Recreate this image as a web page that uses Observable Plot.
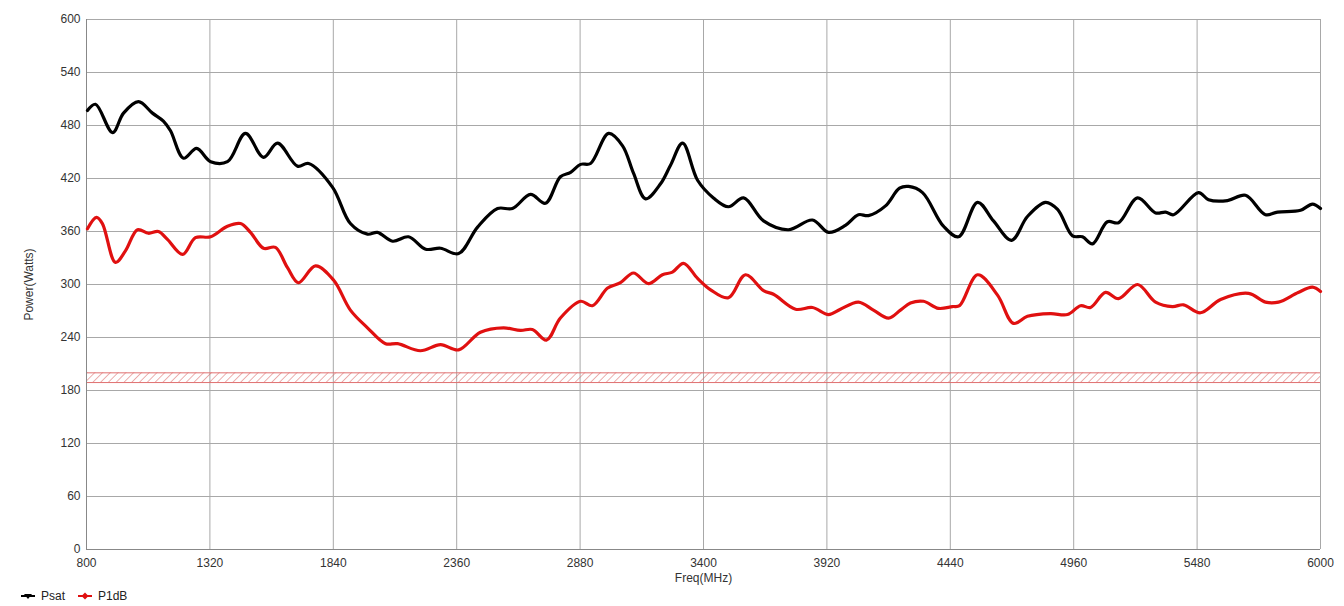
<!DOCTYPE html>
<html>
<head>
<meta charset="utf-8">
<script src="https://cdn.jsdelivr.net/npm/d3@7"></script>
<script src="https://cdn.jsdelivr.net/npm/@observablehq/plot@0.6"></script>
<style>
  body { margin: 0; background: #fff; font-family: "Liberation Sans", Arial, sans-serif; }
  #legend { display: flex; gap: 12px; align-items: center; height: 20px; padding-left: 20px; font-size: 12px; color: #222; }
  #legend span.item { display: inline-flex; align-items: center; gap: 5px; }
</style>
</head>
<body>
<div id="chart"></div>
<div id="legend"></div>
<script>
// Frequencies (MHz) and values (Watts)
const psatFreq = [804, 838, 910, 956, 1019, 1078, 1124, 1154, 1209, 1264, 1323, 1394, 1470, 1546, 1605, 1689, 1736, 1837, 1912, 1984, 2026, 2090, 2157, 2229, 2292, 2368, 2448, 2532, 2595, 2671, 2734, 2797, 2840, 2882, 2924, 3000, 3059, 3105, 3156, 3219, 3261, 3312, 3375, 3442, 3505, 3569, 3653, 3758, 3859, 3927, 3998, 4053, 4095, 4167, 4226, 4264, 4323, 4411, 4475, 4555, 4622, 4698, 4765, 4841, 4892, 4955, 4997, 5039, 5102, 5149, 5229, 5305, 5347, 5381, 5486, 5528, 5608, 5684, 5768, 5819, 5916, 5966, 6000];
const psatWatts = [497, 504, 472, 494, 507, 494, 485, 474, 443, 454, 439, 439, 471, 444, 460, 434, 437, 410, 369, 357, 359, 349, 354, 340, 341, 335, 365, 386, 386, 402, 392, 422, 427, 436, 437, 471, 457, 426, 397, 414, 435, 460, 418, 398, 388, 398, 372, 362, 373, 359, 367, 379, 378, 389, 409, 411, 404, 366, 354, 393, 372, 350, 377, 393, 385, 355, 354, 346, 371, 370, 398, 381, 382, 379, 404, 396, 395, 401, 379, 382, 384, 391, 386];

const p1dbFreq = [804, 842, 867, 922, 964, 1015, 1061, 1103, 1141, 1205, 1259, 1323, 1394, 1449, 1491, 1546, 1596, 1647, 1693, 1765, 1841, 1912, 1984, 2060, 2111, 2207, 2292, 2368, 2460, 2557, 2629, 2679, 2738, 2797, 2882, 2932, 2996, 3050, 3105, 3168, 3227, 3269, 3316, 3375, 3430, 3505, 3577, 3653, 3695, 3788, 3859, 3927, 3977, 4053, 4116, 4180, 4230, 4272, 4327, 4390, 4449, 4479, 4555, 4639, 4706, 4765, 4862, 4934, 4989, 5031, 5094, 5149, 5229, 5305, 5376, 5423, 5494, 5579, 5697, 5768, 5823, 5906, 5966, 6000];
const p1dbWatts = [363, 376, 369, 325, 338, 362, 358, 360, 351, 334, 353, 354, 366, 369, 359, 341, 342, 319, 302, 321, 305, 271, 251, 233, 233, 225, 232, 226, 246, 251, 248, 249, 237, 262, 281, 276, 296, 302, 313, 301, 311, 314, 324, 307, 294, 285, 311, 293, 289, 272, 274, 266, 272, 280, 271, 262, 271, 279, 281, 273, 275, 276, 311, 288, 256, 264, 267, 266, 276, 274, 291, 284, 300, 280, 275, 277, 268, 283, 290, 280, 280, 291, 297, 292];

const xTicks = [800, 1320, 1840, 2360, 2880, 3400, 3920, 4440, 4960, 5480, 6000];
const yTicks = [0, 60, 120, 180, 240, 300, 360, 420, 480, 540, 600];
const band = [{lo: 189, hi: 200}];
const seriesNames = ["Psat", "P1dB"];
const seriesColors = ["#000000", "#e01010"];

const psat = psatFreq.map((f, i) => ({f, v: psatWatts[i]}));
const p1db = p1dbFreq.map((f, i) => ({f, v: p1dbWatts[i]}));

const font = "Liberation Sans, Arial, sans-serif";

const chart = Plot.plot({
  width: 1344,
  height: 586,
  marginLeft: 86,
  marginRight: 24,
  marginTop: 19,
  marginBottom: 37,
  style: {fontFamily: font, fontSize: "12px", color: "#333", background: "#fff"},
  x: {domain: [800, 6000], ticks: xTicks},
  y: {domain: [0, 600], ticks: yTicks},
  marks: [
    Plot.gridX(xTicks, {stroke: "#a8a8a8", strokeOpacity: 1, strokeWidth: 1}),
    Plot.gridY(yTicks, {stroke: "#a8a8a8", strokeOpacity: 1, strokeWidth: 1}),
    Plot.rectY(band, {x1: 800, x2: 6000, y1: "lo", y2: "hi", fill: "url(#hatch)"}),
    Plot.ruleY(band, {y: "hi", stroke: "#e07070", strokeWidth: 1}),
    Plot.ruleY(band, {y: "lo", stroke: "#e07070", strokeWidth: 1}),
    Plot.axisX({ticks: xTicks, tickSize: 0, tickPadding: 9, tickFormat: d => String(d), label: "Freq(MHz)", labelAnchor: "center", labelArrow: "none", labelOffset: 32, fontSize: 12}),
    Plot.axisY({ticks: yTicks, tickSize: 0, tickPadding: 6, tickFormat: d => String(d), label: "Power(Watts)", labelAnchor: "center", labelArrow: "none", labelOffset: 62, fontSize: 12}),
    Plot.ruleX([800], {stroke: "#888"}),
    Plot.ruleY([0], {stroke: "#888"}),
    Plot.line(p1db, {x: "f", y: "v", stroke: seriesColors[1], strokeWidth: 3.2, curve: "catmull-rom"}),
    Plot.line(psat, {x: "f", y: "v", stroke: seriesColors[0], strokeWidth: 3.2, curve: "catmull-rom"})
  ]
});

// hatch pattern for the band
const svg = d3.select(chart);
const defs = svg.insert("defs", ":first-child");
const pat = defs.append("pattern")
  .attr("id", "hatch")
  .attr("patternUnits", "userSpaceOnUse")
  .attr("width", 5.5).attr("height", 5.5)
  .attr("patternTransform", "rotate(45)");
pat.append("line").attr("x1", 0).attr("y1", 0).attr("x2", 0).attr("y2", 5.5)
  .attr("stroke", "#d86060").attr("stroke-width", 1);

document.getElementById("chart").appendChild(chart);

// legend
const legend = d3.select("#legend");
const markers = ["M-4,-2 L4,-2 L0,3 Z", "M0,-3.5 L3.5,0 L0,3.5 L-3.5,0 Z"];
seriesNames.forEach((name, i) => {
  const item = legend.append("span").attr("class", "item");
  const s = item.append("svg").attr("width", 16).attr("height", 10).attr("viewBox", "-8 -5 16 10");
  s.append("line").attr("x1", -7).attr("x2", 7).attr("y1", 0).attr("y2", 0).attr("stroke", seriesColors[i]).attr("stroke-width", 2);
  s.append("path").attr("d", markers[i]).attr("fill", seriesColors[i]);
  item.append("span").text(name);
});
</script>
</body>
</html>
